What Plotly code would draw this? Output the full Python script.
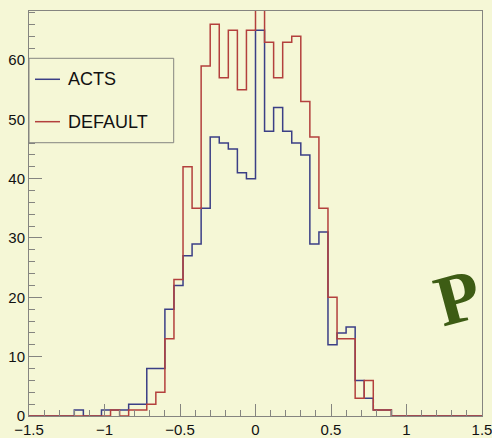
import numpy as np
import plotly.graph_objects as go

# Histogram binning: 50 bins between -1.5 and 1.5
x_min, x_max, n_bins = -1.5, 1.5, 50

acts_counts = [0, 0, 0, 0, 0, 1, 0, 0, 1, 1,
               1, 2, 2, 8, 8, 18, 22, 27, 29, 35,
               47, 46, 45, 41, 40, 65, 48, 52, 48, 46,
               44, 29, 31, 12, 14, 15, 6, 3, 1, 1,
               0, 0, 0, 0, 0, 0, 0, 0, 0, 0]

default_counts = [0, 0, 0, 0, 0, 0, 0, 0, 0, 1,
                  0, 1, 1, 2, 4, 13, 23, 42, 35, 59,
                  66, 57, 65, 55, 65, 72, 63, 57, 63, 64,
                  53, 47, 35, 20, 13, 13, 3, 6, 1, 1,
                  0, 0, 0, 0, 0, 0, 0, 0, 0, 0]

series_names = ["ACTS", "DEFAULT"]
series_colors = ["#3b3f86", "#b3403d"]

edges = np.linspace(x_min, x_max, n_bins + 1)
y_max = max(acts_counts) * 1.05

bg = "#f5f7d6"
frame = "#858580"
font_family = "Liberation Sans, Arial, sans-serif"

fig = go.Figure()
for name, counts, color in zip(series_names, [acts_counts, default_counts], series_colors):
    fig.add_trace(go.Scatter(
        x=edges,
        y=list(counts) + [counts[-1]],
        mode="lines",
        line=dict(shape="hv", color=color, width=1.5),
        name=name,
        showlegend=False,
    ))

fig.update_layout(
    width=492, height=438,
    margin=dict(l=29, r=10, t=11, b=22, autoexpand=False),
    paper_bgcolor=bg, plot_bgcolor=bg,
    font=dict(family=font_family, size=15, color="#111111"),
)
fig.update_xaxes(
    range=[x_min, x_max], dtick=0.5, tick0=0,
    showgrid=False, zeroline=False, automargin=False,
    showline=True, mirror=True, linecolor=frame, linewidth=1,
    ticks="inside", ticklen=12, tickcolor=frame, tickwidth=1,
    minor=dict(dtick=0.1, ticks="inside", ticklen=6, tickcolor=frame, showgrid=False),
    tickfont=dict(size=15), ticklabeloverflow="allow",
)
fig.update_yaxes(
    range=[0, y_max], dtick=10, tick0=0,
    showgrid=False, zeroline=False, automargin=False,
    showline=True, mirror=True, linecolor=frame, linewidth=1,
    ticks="inside", ticklen=13, tickcolor=frame, tickwidth=1,
    minor=dict(dtick=2, ticks="inside", ticklen=6, tickcolor=frame, showgrid=False),
    tickfont=dict(size=15), ticklabeloverflow="allow",
)

# Legend box drawn in paper coordinates
fig.add_shape(type="rect", xref="paper", yref="paper",
              x0=0.0, x1=0.3194, y0=0.6748, y1=0.8832,
              line=dict(color=frame, width=1), fillcolor=bg, layer="above")
legend_rows = [0.8314, 0.7267]
for name, color, yrow in zip(series_names, series_colors, legend_rows):
    fig.add_shape(type="line", xref="paper", yref="paper",
                  x0=0.0132, x1=0.0684, y0=yrow, y1=yrow,
                  line=dict(color=color, width=1.5), layer="above")
    fig.add_annotation(text=name, xref="paper", yref="paper",
                       x=0.0817, y=yrow, xanchor="left", yanchor="middle",
                       showarrow=False, font=dict(family=font_family, size=18, color="#111111"))

# Tilted "P" mark
fig.add_annotation(text="<b>P</b>", xref="paper", yref="paper",
                   x=0.947, y=0.292, xanchor="center", yanchor="middle",
                   showarrow=False, textangle=-15,
                   font=dict(family="Liberation Serif, DejaVu Serif, serif", size=72, color="#3d5c14"))

fig.write_html("out.html")
